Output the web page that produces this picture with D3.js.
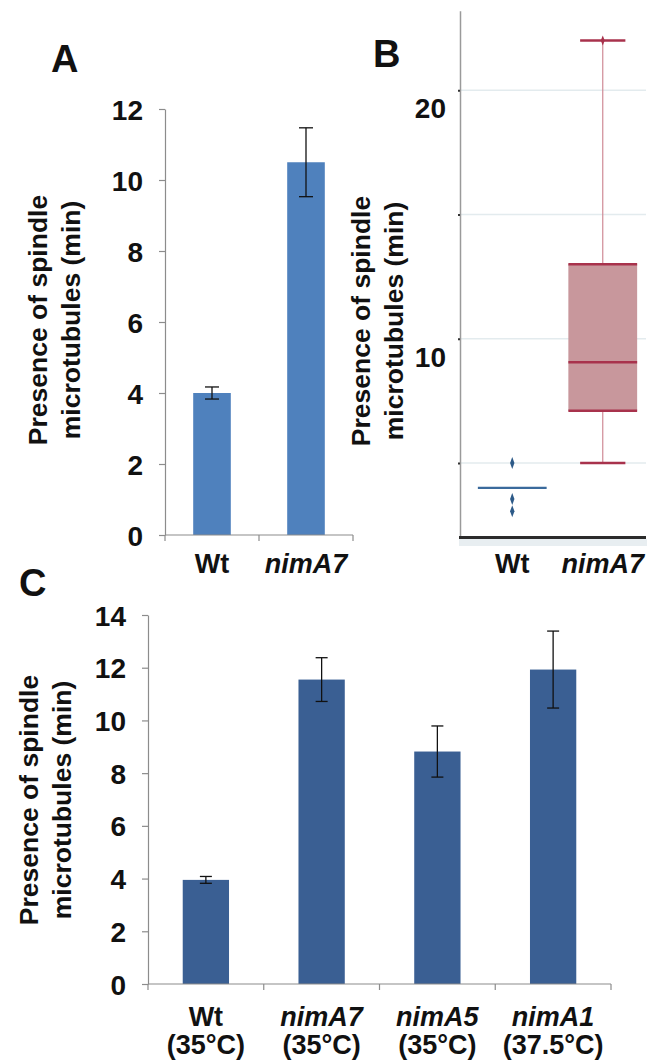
<!DOCTYPE html>
<html>
<head>
<meta charset="utf-8">
<script src="https://cdn.jsdelivr.net/npm/d3@7"></script>
<style>
  body { margin: 0; background: #fff; }
  text { font-family: "Liberation Sans", Arial, sans-serif; font-weight: bold; fill: #111; }
</style>
</head>
<body>
<svg id="chart"></svg>
<script>
// Panel A: bar chart
const groupsA = ["Wt", "nimA7"];
const meansA = [4.0, 10.5];
const errA = [0.17, 0.97];
const ticksA = [0, 2, 4, 6, 8, 10, 12];

// Panel B: box plot
const groupsB = ["Wt", "nimA7"];
const q1B = [4.0, 7.1];
const medB = [4.0, 9.05];
const q3B = [4.0, 13.0];
const whiskLoB = [null, 5.0];
const whiskHiB = [null, 22.0];
const outliersB = [[5.0, 3.55, 3.06], [22.0]];
const gridB = [5, 10, 15, 20];
const tickLabelsB = [10, 20];

// Panel C: bar chart
const groupsC = ["Wt", "nimA7", "nimA5", "nimA1"];
const tempsC = ["(35°C)", "(35°C)", "(35°C)", "(37.5°C)"];
const meansC = [3.95, 11.55, 8.82, 11.93];
const errC = [0.13, 0.83, 0.97, 1.46];
const ticksC = [0, 2, 4, 6, 8, 10, 12, 14];

const W = 657, H = 1063;
const svg = d3.select("#chart").attr("width", W).attr("height", H);

function yLabel(x1, x2, cy) {
    const g = svg.append("g");
    [["Presence of spindle", x1], ["microtubules (min)", x2]].forEach(([t, x]) => {
        g.append("text")
            .attr("transform", `translate(${x},${cy}) rotate(-90)`)
            .attr("text-anchor", "middle")
            .style("font-size", "26.5px")
            .text(t);
    });
}

function barPanel(opts) {
    const { groups, means, errs, ticks, xRange, yDomain, yRange, color, capW } = opts;
    const x = d3.scaleBand().domain(groups).range(xRange).paddingInner(0.6).paddingOuter(0.3);
    const y = d3.scaleLinear().domain(yDomain).range(yRange);
    const g = svg.append("g");

    // y axis
    const ya = g.append("g")
        .attr("transform", `translate(${xRange[0]},0)`)
        .call(d3.axisLeft(y).tickValues(ticks).tickSize(6).tickPadding(16).tickSizeOuter(0));
    ya.select(".domain").attr("stroke", "#8c8c8c").attr("stroke-width", 1.2);
    ya.selectAll(".tick line").attr("stroke", "#8c8c8c").attr("stroke-width", 1.2);
    ya.selectAll(".tick text").style("font-size", "28px").attr("fill", "#111").attr("font-family", null)
        .attr("dy", "0.36em");

    // bars
    g.selectAll(".bar").data(groups).enter().append("rect")
        .attr("x", d => x(d))
        .attr("y", (d, i) => y(means[i]))
        .attr("width", x.bandwidth())
        .attr("height", (d, i) => y(0) - y(means[i]))
        .attr("fill", color);

    // error bars
    groups.forEach((d, i) => {
        const cx = x(d) + x.bandwidth() / 2;
        const top = y(means[i] + errs[i]), bot = y(means[i] - errs[i]);
        g.append("line").attr("x1", cx).attr("x2", cx).attr("y1", top).attr("y2", bot)
            .attr("stroke", "#111").attr("stroke-width", 1.3);
        [top, bot].forEach(v => g.append("line")
            .attr("x1", cx - capW / 2).attr("x2", cx + capW / 2).attr("y1", v).attr("y2", v)
            .attr("stroke", "#111").attr("stroke-width", 1.3));
    });

    // x axis line with ticks at category boundaries
    const y0 = y(0);
    g.append("line").attr("x1", xRange[0]).attr("x2", xRange[1]).attr("y1", y0).attr("y2", y0)
        .attr("stroke", "#8c8c8c").attr("stroke-width", 1.2);
    const half = (x.step() - x.bandwidth()) / 2;
    const bounds = [xRange[0]].concat(groups.map(d => x(d) + x.bandwidth() + half));
    g.selectAll(".xt").data(bounds).enter().append("line")
        .attr("x1", d => d).attr("x2", d => d).attr("y1", y0).attr("y2", y0 + 6)
        .attr("stroke", "#8c8c8c").attr("stroke-width", 1.2);
    return { x, y, g };
}

// ---------- Panel A ----------
const A = barPanel({
    groups: groupsA, means: meansA, errs: errA, ticks: ticksA,
    xRange: [165, 353], yDomain: [0, 12], yRange: [535, 109],
    color: "#4f81bd", capW: 14
});
groupsA.forEach(d => {
    A.g.append("text")
        .attr("x", A.x(d) + A.x.bandwidth() / 2).attr("y", 573)
        .attr("text-anchor", "middle")
        .style("font-size", "27px")
        .style("font-style", d === "Wt" ? "normal" : "italic")
        .text(d);
});
svg.append("text").attr("x", 51).attr("y", 72).style("font-size", "38px").text("A");
yLabel(47, 80, 320);

// ---------- Panel B ----------
const xB = d3.scalePoint().domain(groupsB).range([467, 648]).padding(0.5);
const yB = d3.scaleLinear().domain([2, 23.2]).range([537.5, 10.7]);
const boxW = xB.step() * 0.76, capB = xB.step() * 0.5;
const gB = svg.append("g");

gB.selectAll(".grid").data(gridB).enter().append("line")
    .attr("x1", 461).attr("x2", 646)
    .attr("y1", d => yB(d)).attr("y2", d => yB(d))
    .attr("stroke", "#e3ebee").attr("stroke-width", 1.5);

// y axis of B
const yaB = gB.append("g").attr("transform", "translate(460,0)")
    .call(d3.axisLeft(yB).tickValues(gridB).tickSize(2).tickFormat("").tickSizeOuter(0));
yaB.select(".domain").attr("stroke", "#9a9a9a").attr("stroke-width", 1.5);
yaB.selectAll(".tick line").attr("stroke", "#333").attr("stroke-width", 2);
gB.selectAll(".tlb").data(tickLabelsB).enter().append("text")
    .attr("x", 446).attr("y", d => yB(d) + 28)
    .attr("text-anchor", "end")
    .style("font-size", "28px")
    .text(d => d);

// boxes
const red = "#a8324c", redFill = "#c8979c", blue = "#3a6a9c";
groupsB.forEach((d, i) => {
    const cx = xB(d);
    if (whiskLoB[i] != null) {
        gB.append("line").attr("x1", cx).attr("x2", cx)
            .attr("y1", yB(whiskHiB[i])).attr("y2", yB(whiskLoB[i]))
            .attr("stroke", "#cf8a96").attr("stroke-width", 1.2);
        [whiskLoB[i], whiskHiB[i]].forEach(v => gB.append("line")
            .attr("x1", cx - capB / 2).attr("x2", cx + capB / 2)
            .attr("y1", yB(v)).attr("y2", yB(v))
            .attr("stroke", red).attr("stroke-width", 2.5));
        gB.append("rect")
            .attr("x", cx - boxW / 2).attr("y", yB(q3B[i]))
            .attr("width", boxW).attr("height", yB(q1B[i]) - yB(q3B[i]))
            .attr("fill", redFill);
        [q1B[i], medB[i], q3B[i]].forEach(v => gB.append("line")
            .attr("x1", cx - boxW / 2).attr("x2", cx + boxW / 2)
            .attr("y1", yB(v)).attr("y2", yB(v))
            .attr("stroke", red).attr("stroke-width", 2.5));
        outliersB[i].forEach(v => gB.append("path")
            .attr("d", `M${cx},${yB(v) - 5}L${cx + 2},${yB(v)}L${cx},${yB(v) + 5}L${cx - 2},${yB(v)}Z`)
            .attr("fill", red));
    } else {
        gB.append("line")
            .attr("x1", cx - boxW / 2).attr("x2", cx + boxW / 2)
            .attr("y1", yB(medB[i])).attr("y2", yB(medB[i]))
            .attr("stroke", blue).attr("stroke-width", 2.2);
        outliersB[i].forEach(v => gB.append("path")
            .attr("d", `M${cx},${yB(v) - 6}L${cx + 2.2},${yB(v)}L${cx},${yB(v) + 6}L${cx - 2.2},${yB(v)}Z`)
            .attr("fill", "#2d5a88"));
    }
});

// bottom axis of B
gB.append("rect").attr("x", 459).attr("y", yB(2) + 1.5).attr("width", 188).attr("height", 7)
    .attr("fill", "#e8eef1");
gB.append("line").attr("x1", 459).attr("x2", 646).attr("y1", yB(2)).attr("y2", yB(2))
    .attr("stroke", "#2b2b2b").attr("stroke-width", 3);
groupsB.forEach(d => {
    gB.append("text")
        .attr("x", xB(d)).attr("y", 573)
        .attr("text-anchor", "middle")
        .style("font-size", "27px")
        .style("font-style", d === "Wt" ? "normal" : "italic")
        .text(d);
});
svg.append("text").attr("x", 373).attr("y", 67).style("font-size", "38px").text("B");
yLabel(370, 403, 321);

// ---------- Panel C ----------
const C = barPanel({
    groups: groupsC, means: meansC, errs: errC, ticks: ticksC,
    xRange: [148, 611], yDomain: [0, 14], yRange: [984, 615],
    color: "#3a5f93", capW: 12
});
groupsC.forEach((d, i) => {
    const cx = C.x(d) + C.x.bandwidth() / 2;
    C.g.append("text")
        .attr("x", cx).attr("y", 1026)
        .attr("text-anchor", "middle")
        .style("font-size", "27px")
        .style("font-style", d === "Wt" ? "normal" : "italic")
        .text(d);
    C.g.append("text")
        .attr("x", cx).attr("y", 1054)
        .attr("text-anchor", "middle")
        .style("font-size", "27px")
        .text(tempsC[i]);
});
svg.append("text").attr("x", 19).attr("y", 596).style("font-size", "38px").text("C");
yLabel(38, 71, 800);
</script>
</body>
</html>
